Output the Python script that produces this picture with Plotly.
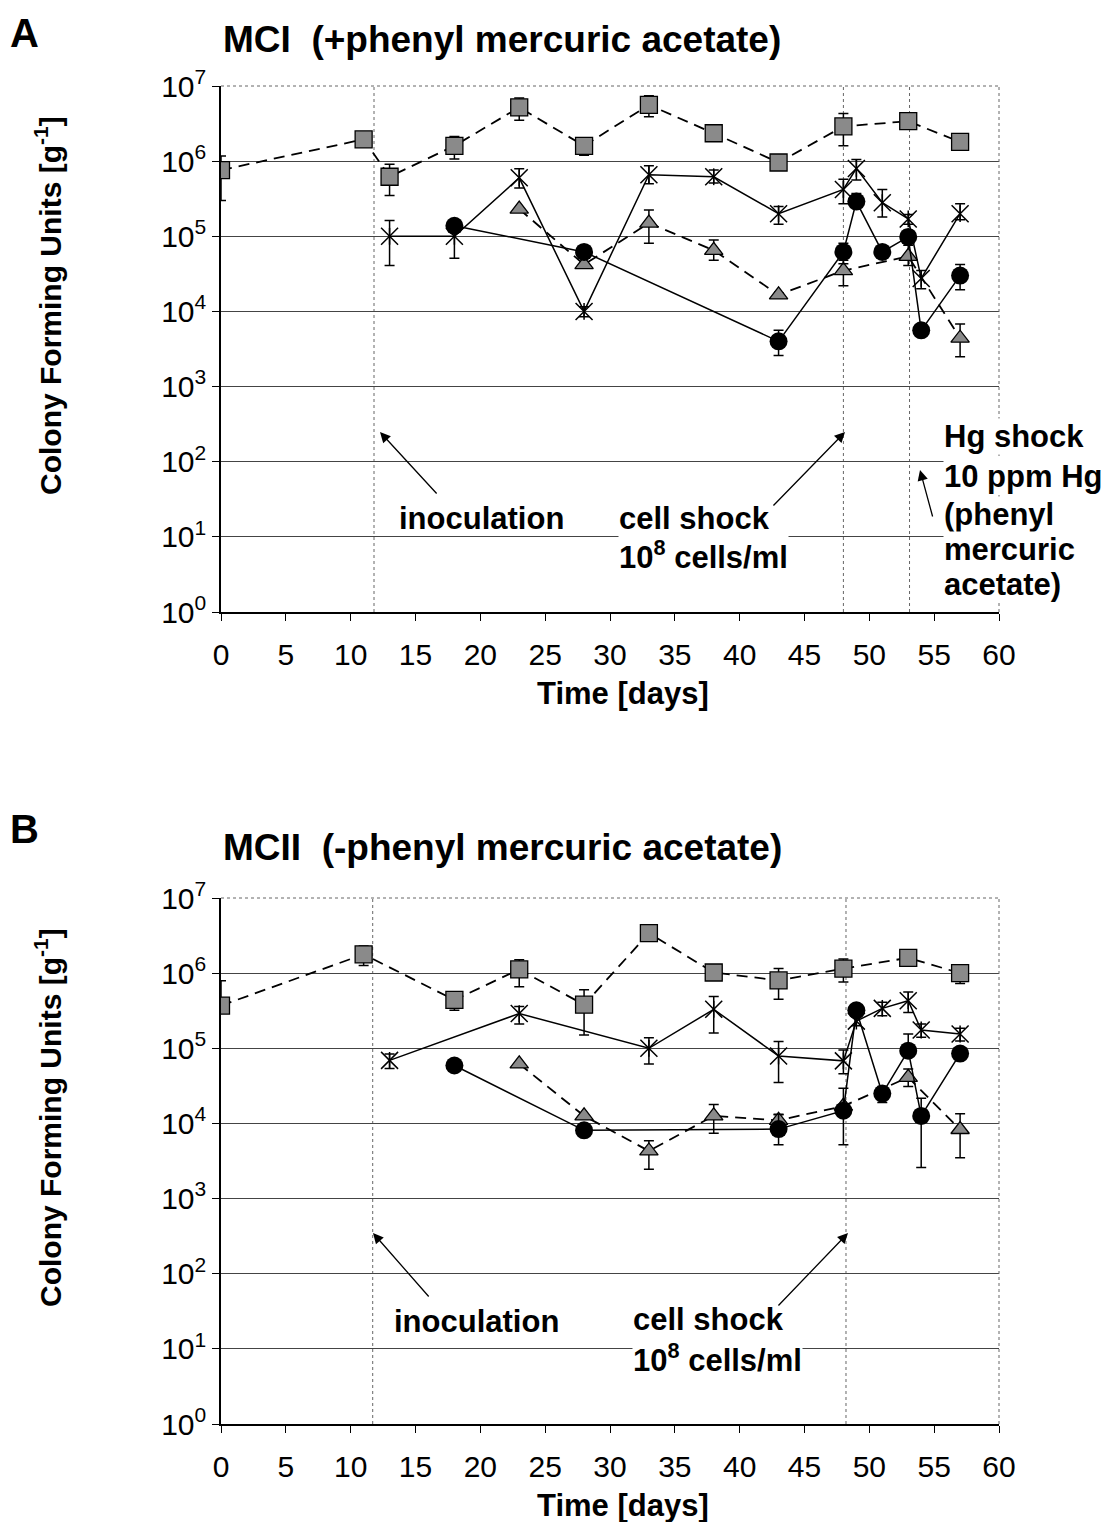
import plotly.graph_objects as go

W, H = 1112, 1522

# ---------------- Panel A : MCI (+phenyl mercuric acetate) ----------------
sq_days_A = [0, 11, 13, 18, 23, 28, 33, 38, 43, 48, 53, 57]
sq_A = [7.6e5, 1.95e6, 6.2e5, 1.6e6, 5.2e6, 1.6e6, 5.6e6, 2.35e6, 9.6e5, 2.9e6, 3.4e6, 1.8e6]
sq_A_plus = [4.1e5, 0, 2.9e5, 5.3e5, 1.7e6, 4.0e5, 1.8e6, 0, 0, 1.4e6, 0, 4.0e5]
sq_A_minus = [4.6e5, 0, 2.7e5, 5.3e5, 1.7e6, 4.0e5, 1.7e6, 0, 0, 1.3e6, 0, 4.0e5]

st_days_A = [13, 18, 23, 28, 33, 38, 43, 48, 49, 51, 53, 54, 57]
st_A = [1.0e5, 1.0e5, 6.0e5, 1.0e4, 6.6e5, 6.2e5, 2.0e5, 4.2e5, 8.0e5, 2.8e5, 1.7e5, 2.75e4, 2.0e5]
st_A_plus = [6.2e4, 4.9e4, 1.9e5, 1.5e3, 2.1e5, 1.4e5, 5.0e4, 1.55e5, 2.5e5, 1.4e5, 2.5e4, 7.5e3, 7.0e4]
st_A_minus = [5.9e4, 4.9e4, 1.6e5, 1.5e3, 1.6e5, 1.1e5, 5.5e4, 1.5e5, 2.4e5, 1.0e5, 2.5e4, 7.5e3, 3.4e4]

ci_days_A = [18, 28, 43, 48, 49, 51, 53, 54, 57]
ci_A = [1.38e5, 6.2e4, 4.0e3, 6.2e4, 2.9e5, 6.2e4, 9.8e4, 5.6e3, 3.0e4]
ci_A_plus = [0, 0, 1.6e3, 1.9e4, 8.0e4, 0, 2.2e4, 0, 1.2e4]
ci_A_minus = [0, 0, 1.4e3, 1.9e4, 0, 0, 0, 0, 1.05e4]

tr_days_A = [23, 28, 33, 38, 43, 48, 53, 57]
tr_A = [2.3e5, 4.2e4, 1.5e5, 6.5e4, 1.66e4, 3.5e4, 5.4e4, 4.4e3]
tr_A_plus = [0, 0, 7.4e4, 2.4e4, 0, 1.3e4, 2.2e4, 2.4e3]
tr_A_minus = [0, 0, 6.9e4, 1.7e4, 0, 1.3e4, 1.3e4, 1.9e3]

events_A = [11.8, 48.0, 53.1]

# ---------------- Panel B : MCII (-phenyl mercuric acetate) ----------------
sq_days_B = [0, 11, 18, 23, 28, 33, 38, 43, 48, 53, 57]
sq_B = [3.7e5, 1.78e6, 4.4e5, 1.12e6, 3.8e5, 3.4e6, 1.02e6, 8.0e5, 1.15e6, 1.6e6, 1.0e6]
sq_B_plus = [4.2e5, 5.2e5, 1.2e5, 3.9e5, 2.2e5, 0, 0, 3.5e5, 3.9e5, 0, 2.7e5]
sq_B_minus = [0, 5.2e5, 1.2e5, 4.6e5, 2.3e5, 0, 0, 3.5e5, 3.9e5, 0, 2.7e5]

st_days_B = [13, 23, 33, 38, 43, 48, 49, 51, 53, 54, 57]
st_B = [6.9e4, 2.9e5, 1.0e5, 3.3e5, 7.9e4, 6.8e4, 2.3e5, 3.4e5, 4.3e5, 1.75e5, 1.55e5]
st_B_plus = [1.5e4, 7.0e4, 3.8e4, 1.6e5, 4.4e4, 2.7e4, 3.0e4, 7.0e4, 1.3e5, 3.5e4, 3.0e4]
st_B_minus = [1.5e4, 8.0e4, 3.8e4, 1.7e5, 4.4e4, 2.2e4, 3.0e4, 7.0e4, 1.3e5, 3.5e4, 3.0e4]

ci_days_B = [18, 28, 43, 48, 49, 51, 53, 54, 57]
ci_B = [5.9e4, 8.1e3, 8.4e3, 1.48e4, 3.2e5, 2.5e4, 9.3e4, 1.26e4, 8.5e4]
ci_B_plus = [0, 0, 4.8e3, 1.45e4, 0, 6.0e3, 6.2e4, 9.0e3, 0]
ci_B_minus = [0, 0, 3.2e3, 9.6e3, 0, 6.0e3, 0, 1.0e4, 0]

tr_days_B = [23, 28, 33, 38, 43, 48, 53, 57]
tr_B = [6.2e4, 1.26e4, 4.3e3, 1.26e4, 1.1e4, 1.7e4, 4.1e4, 8.3e3]
tr_B_plus = [0, 0, 1.6e3, 5.2e3, 2.0e3, 0, 1.2e4, 5.2e3]
tr_B_minus = [0, 0, 1.85e3, 5.2e3, 2.0e3, 0, 1.0e4, 4.8e3]

events_B = [11.7, 48.2]

x_ticks = list(range(0, 61, 5))
y_tickvals = [10 ** k for k in range(0, 8)]
y_ticktext = ["10<sup>%d</sup>" % k for k in range(0, 8)]

FONT = "Liberation Sans, Arial, sans-serif"
GRAY = "#8a8a8a"


def px(xp):
    return xp / W


def py(yp):
    return 1 - yp / H


fig = go.Figure()


def err(plus, minus):
    return dict(type="data", array=plus, arrayminus=minus, symmetric=False,
                color="black", thickness=1.5, width=5, visible=True)


def add_panel(xa, ya, sqd, sq, sqp, sqm, trd, tr, trp, trm, std, st, stp, stm, cid, ci, cip, cim):
    # squares (dashed)
    fig.add_trace(go.Scatter(
        x=sqd, y=sq, xaxis=xa, yaxis=ya, mode="lines+markers",
        line=dict(color="black", width=1.8, dash="11px,7px"),
        marker=dict(symbol="square", size=17, color=GRAY, line=dict(color="black", width=1.3)),
        error_y=err(sqp, sqm), showlegend=False, hoverinfo="skip"))
    # triangles (dashed)
    fig.add_trace(go.Scatter(
        x=trd, y=tr, xaxis=xa, yaxis=ya, mode="lines+markers",
        line=dict(color="black", width=1.8, dash="11px,7px"),
        marker=dict(symbol="triangle-up", size=16, color=GRAY, line=dict(color="black", width=1.3)),
        error_y=err(trp, trm), showlegend=False, hoverinfo="skip"))
    # stars (solid)
    fig.add_trace(go.Scatter(
        x=std, y=st, xaxis=xa, yaxis=ya, mode="lines+markers",
        line=dict(color="black", width=1.5),
        marker=dict(symbol="x-thin-open", size=17, color="black", line=dict(color="black", width=1.5)),
        error_y=err(stp, stm), showlegend=False, hoverinfo="skip"))
    fig.add_trace(go.Scatter(
        x=std, y=st, xaxis=xa, yaxis=ya, mode="markers",
        marker=dict(symbol="line-ns-open", size=12, color="black", line=dict(color="black", width=1.5)),
        showlegend=False, hoverinfo="skip"))
    # circles (solid)
    fig.add_trace(go.Scatter(
        x=cid, y=ci, xaxis=xa, yaxis=ya, mode="lines+markers",
        line=dict(color="black", width=1.5),
        marker=dict(symbol="circle", size=18, color="black", line=dict(color="black", width=0)),
        error_y=err(cip, cim), showlegend=False, hoverinfo="skip"))


add_panel("x", "y", sq_days_A, sq_A, sq_A_plus, sq_A_minus, tr_days_A, tr_A, tr_A_plus, tr_A_minus,
          st_days_A, st_A, st_A_plus, st_A_minus, ci_days_A, ci_A, ci_A_plus, ci_A_minus)
add_panel("x2", "y2", sq_days_B, sq_B, sq_B_plus, sq_B_minus, tr_days_B, tr_B, tr_B_plus, tr_B_minus,
          st_days_B, st_B, st_B_plus, st_B_minus, ci_days_B, ci_B, ci_B_plus, ci_B_minus)

PL, PR = 221, 999
panel_px = {"A": (86, 612), "B": (898, 1424)}

xcommon = dict(range=[0, 60], tickmode="array", tickvals=x_ticks, ticks="outside", ticklen=7,
               tickwidth=1.2, tickcolor="black", showline=True, linecolor="black", linewidth=1.5,
               showgrid=False, zeroline=False, ticklabelstandoff=8, automargin=False,
               tickfont=dict(family=FONT, size=30, color="black"))
ycommon = dict(type="log", range=[0, 7], tickmode="array", tickvals=y_tickvals, ticktext=y_ticktext,
               ticks="outside", ticklen=7, tickwidth=1.2, tickcolor="black", showline=True,
               linecolor="black", linewidth=1.5, showgrid=True, gridcolor="#444444", gridwidth=1,
               zeroline=False, automargin=False, tickfont=dict(family=FONT, size=30, color="black"))

fig.update_layout(
    width=W, height=H, margin=dict(l=0, r=0, t=0, b=0, pad=0, autoexpand=False),
    paper_bgcolor="white", plot_bgcolor="white", showlegend=False,
    xaxis=dict(domain=[px(PL), px(PR)], anchor="y", **xcommon),
    yaxis=dict(domain=[py(panel_px["A"][1]), py(panel_px["A"][0])], anchor="x", **ycommon),
    xaxis2=dict(domain=[px(PL), px(PR)], anchor="y2", **xcommon),
    yaxis2=dict(domain=[py(panel_px["B"][1]), py(panel_px["B"][0])], anchor="x2", **ycommon),
)

shapes = []
for xr, yr in (("x", "y"), ("x2", "y2")):
    # dotted plot-area border (top and right)
    shapes.append(dict(type="line", xref=xr + " domain", yref=yr + " domain", x0=0, x1=1, y0=1, y1=1,
                       line=dict(color="#666666", width=1, dash="dot"), layer="above"))
    shapes.append(dict(type="line", xref=xr + " domain", yref=yr + " domain", x0=1, x1=1, y0=0, y1=1,
                       line=dict(color="#666666", width=1, dash="dot"), layer="above"))
for ev in events_A:
    shapes.append(dict(type="line", xref="x", yref="y domain", x0=ev, x1=ev, y0=0, y1=1,
                       line=dict(color="#666666", width=1, dash="dot"), layer="below"))
for ev in events_B:
    shapes.append(dict(type="line", xref="x2", yref="y2 domain", x0=ev, x1=ev, y0=0, y1=1,
                       line=dict(color="#666666", width=1, dash="dot"), layer="below"))
fig.update_layout(shapes=shapes)

ann = []


def text(xp, yp, s, size=31, xanchor="left", yanchor="middle", bold=True, bg=None, angle=0, align="left"):
    d = dict(x=px(xp), y=py(yp), xref="paper", yref="paper", text=("<b>%s</b>" % s) if bold else s,
             showarrow=False, xanchor=xanchor, yanchor=yanchor, textangle=angle, align=align,
             font=dict(family=FONT, size=size, color="black"), borderpad=0)
    if bg:
        d["bgcolor"] = bg
    ann.append(d)


def arrow(hx, hy, tx, ty):
    ann.append(dict(x=px(hx), y=py(hy), xref="paper", yref="paper", text="", showarrow=True,
                    ax=tx - hx, ay=ty - hy, arrowhead=2, arrowsize=1.6, arrowwidth=1.3,
                    arrowcolor="black", standoff=0))


# panel letters and titles
text(24, 33, "A", size=40, xanchor="center")
text(222, 40, "MCI&nbsp;&nbsp;(+phenyl mercuric acetate)", size=37)
text(24, 829, "B", size=40, xanchor="center")
text(222, 847, "MCII&nbsp;&nbsp;(-phenyl mercuric acetate)", size=37)

for off in (0, 812):
    text(48, 306 + off, "Colony Forming Units [g<sup>-1</sup>]", size=30, xanchor="center", angle=-90)
    text(623, 693 + off, "Time [days]", size=31, xanchor="center")

# Panel A annotations
text(398, 518, "inoculation")
arrow(380, 432, 438, 495)
text(618, 518, "cell shock")
text(618, 555, "10<sup>8</sup> cells/ml", bg="white")
arrow(845, 432, 772, 507)
hg_lines = ["Hg shock", "10 ppm Hg", "(phenyl", "mercuric", "acetate)"]
hg_y = [436, 476, 514, 549, 584]
for s, yy in zip(hg_lines, hg_y):
    text(943, yy, s, bg="white")
arrow(920, 470, 933, 518)

# Panel B annotations
text(393, 1321, "inoculation")
arrow(373, 1233, 430, 1298)
text(632, 1319, "cell shock")
text(632, 1358, "10<sup>8</sup> cells/ml", bg="white")
arrow(848, 1233, 777, 1307)

fig.update_layout(annotations=ann)

fig.write_html("out.html")
